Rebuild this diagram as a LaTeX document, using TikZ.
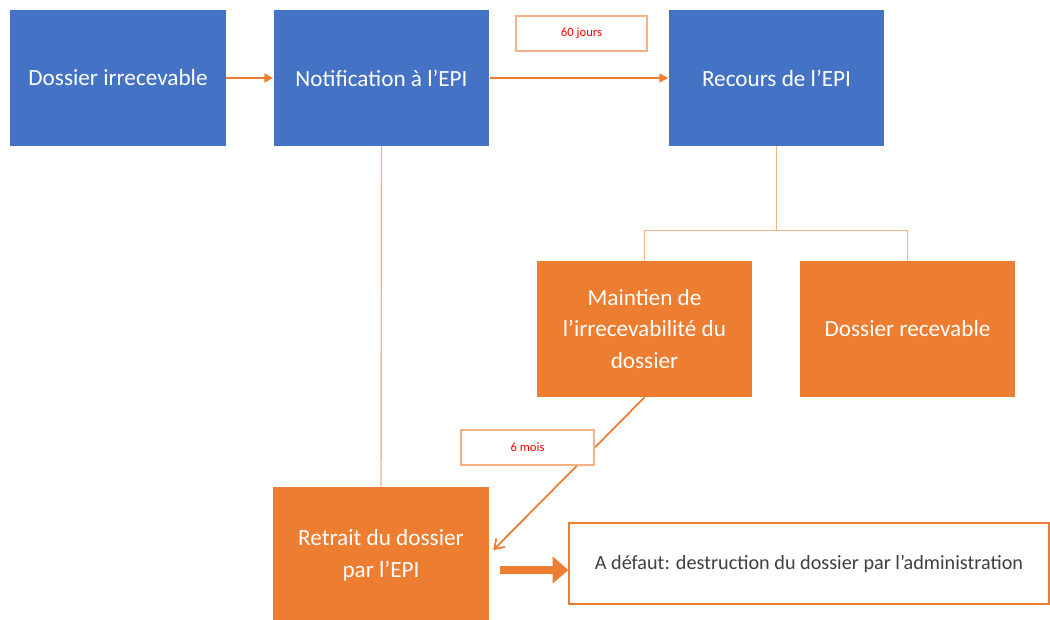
\documentclass[tikz,border=0pt]{standalone}
\usepackage{fontspec}
\setmainfont{Carlito}
\usetikzlibrary{arrows.meta}
\definecolor{epiblue}{HTML}{4472C4}
\definecolor{epiorange}{HTML}{ED7D31}
\definecolor{lineorange}{HTML}{F4B183}
\definecolor{delayred}{HTML}{FF0000}
\definecolor{notegray}{HTML}{404040}

\begin{document}
\begin{tikzpicture}[x=0.02cm,y=-0.02cm,
  bluebox/.style={fill=epiblue,text=white,minimum width=4.32cm,minimum height=2.72cm,
    inner sep=0pt,align=center,font=\fontsize{13.2}{18}\selectfont},
  orangebox/.style={bluebox,fill=epiorange},
  delaybox/.style={draw=lineorange,fill=white,line width=0.8pt,text=delayred,
    minimum height=0.7cm,inner sep=0pt,font=\fontsize{7.2}{8}\selectfont},
  flow/.style={draw=epiorange,line width=1.1pt,-{Triangle[length=5pt,width=5pt]}},
  link/.style={draw=lineorange,line width=0.8pt}]
\clip (0,0) rectangle (1050,619);
% First row
\node[bluebox] (irrec) at (118,78) {Dossier irrecevable};
\node[bluebox] (notif) at (381.5,78) {Notification à l’EPI};
\node[bluebox] (recours) at (776.5,78) {Recours de l’EPI};
\draw[flow] (irrec) -- (notif);
\draw[flow] (notif) -- (recours);
\node[delaybox,minimum width=2.62cm] (jours) at (581.5,33.5) {60 jours};
% Outcomes of the appeal
\node[orangebox] (maintien) at (644.5,329) {Maintien de\\l’irrecevabilité du\\dossier};
\node[orangebox] (recev) at (907.5,329) {Dossier recevable};
\draw[link] (recours.south) -- ++(0,84) coordinate (split);
\draw[link] (maintien.north) |- (split) -| (recev.north);
% Withdrawal
\node[orangebox] (retrait) at (381,555) {Retrait du dossier\\par l’EPI};
\draw[link] (notif.south) -- (retrait.north);
\draw[draw=epiorange,line width=1pt,-{Straight Barb[length=5pt,width=7pt]}]
  (maintien.south) -- ([shift={(4,-5)}]retrait.east);
\node[delaybox,minimum width=2.66cm] (mois) at (527.5,447.5) {6 mois};
\node[draw=epiorange,line width=0.8pt,fill=white,minimum width=9.6cm,minimum height=1.62cm,
  text=notegray,font=\fontsize{11.5}{14}\selectfont] (defaut) at (809,563.5)
  {A défaut: destruction du dossier par l’administration};
\coordinate (start) at ([shift={(11,15)}]retrait.east);
\draw[epiorange,line width=4.5pt,-{Triangle[length=9pt,width=15pt]}]
  (start) -- (start -| defaut.west);
\end{tikzpicture}
\end{document}
